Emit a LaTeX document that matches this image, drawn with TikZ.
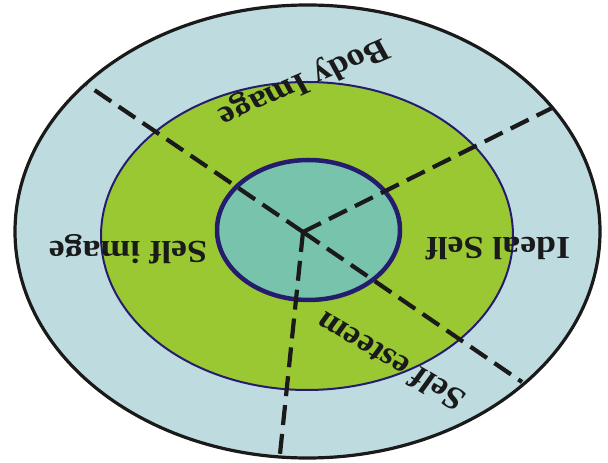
\documentclass[tikz,border=0pt]{standalone}
\usepackage{fontspec}
\setmainfont{Liberation Serif}
\definecolor{outerblue}{HTML}{BEDCE0}
\definecolor{midgreen}{HTML}{9AC833}
\definecolor{innerteal}{HTML}{77C3AC}
\definecolor{navy}{HTML}{261C6E}
\definecolor{ink}{HTML}{1A1A1A}
\tikzset{
  divider/.style={draw=ink, line width=4.2pt, dash pattern=on 20pt off 9pt},
  lbl/.style={font=\fontsize{32}{32}\selectfont\bfseries, text=ink, inner sep=0pt, xscale=1.12}
}
\begin{document}
\begin{tikzpicture}[x=1pt,y=1pt]
\useasboundingbox (0,0) rectangle (608,463);
\fill[white] (0,0) rectangle (608,463);
% rings
\path[fill=outerblue, draw=ink, line width=3.2pt] (307.5,231.5) ellipse [x radius=292.5, y radius=226.5];
\path[fill=midgreen, draw=navy, line width=2pt] (307,227) ellipse [x radius=206, y radius=154];
\path[fill=innerteal, draw=navy, line width=4.5pt] (308.5,233) ellipse [x radius=91.5, y radius=70];
% dividers
\coordinate (c) at (303,231);
\coordinate (ul) at (87,378);
\coordinate (ur) at (552,355);
\coordinate (lr) at (522,81);
\coordinate (bt) at (280,9);
\draw[divider] (c) -- (ul);
\draw[divider] (c) -- (ur);
\draw[divider] (c) -- (lr);
\draw[divider] (c) -- (bt);
% labels
\node[lbl, rotate=206] (body) at (303,382) {Body Image};
\node[lbl, rotate=180] (selfimg) at (128,214) {Self image};
\node[lbl, rotate=180] (ideal) at (498,214) {Ideal Self};
\node[lbl, rotate=147] (esteem) at (390,101) {Self esteem};
\end{tikzpicture}
\end{document}
